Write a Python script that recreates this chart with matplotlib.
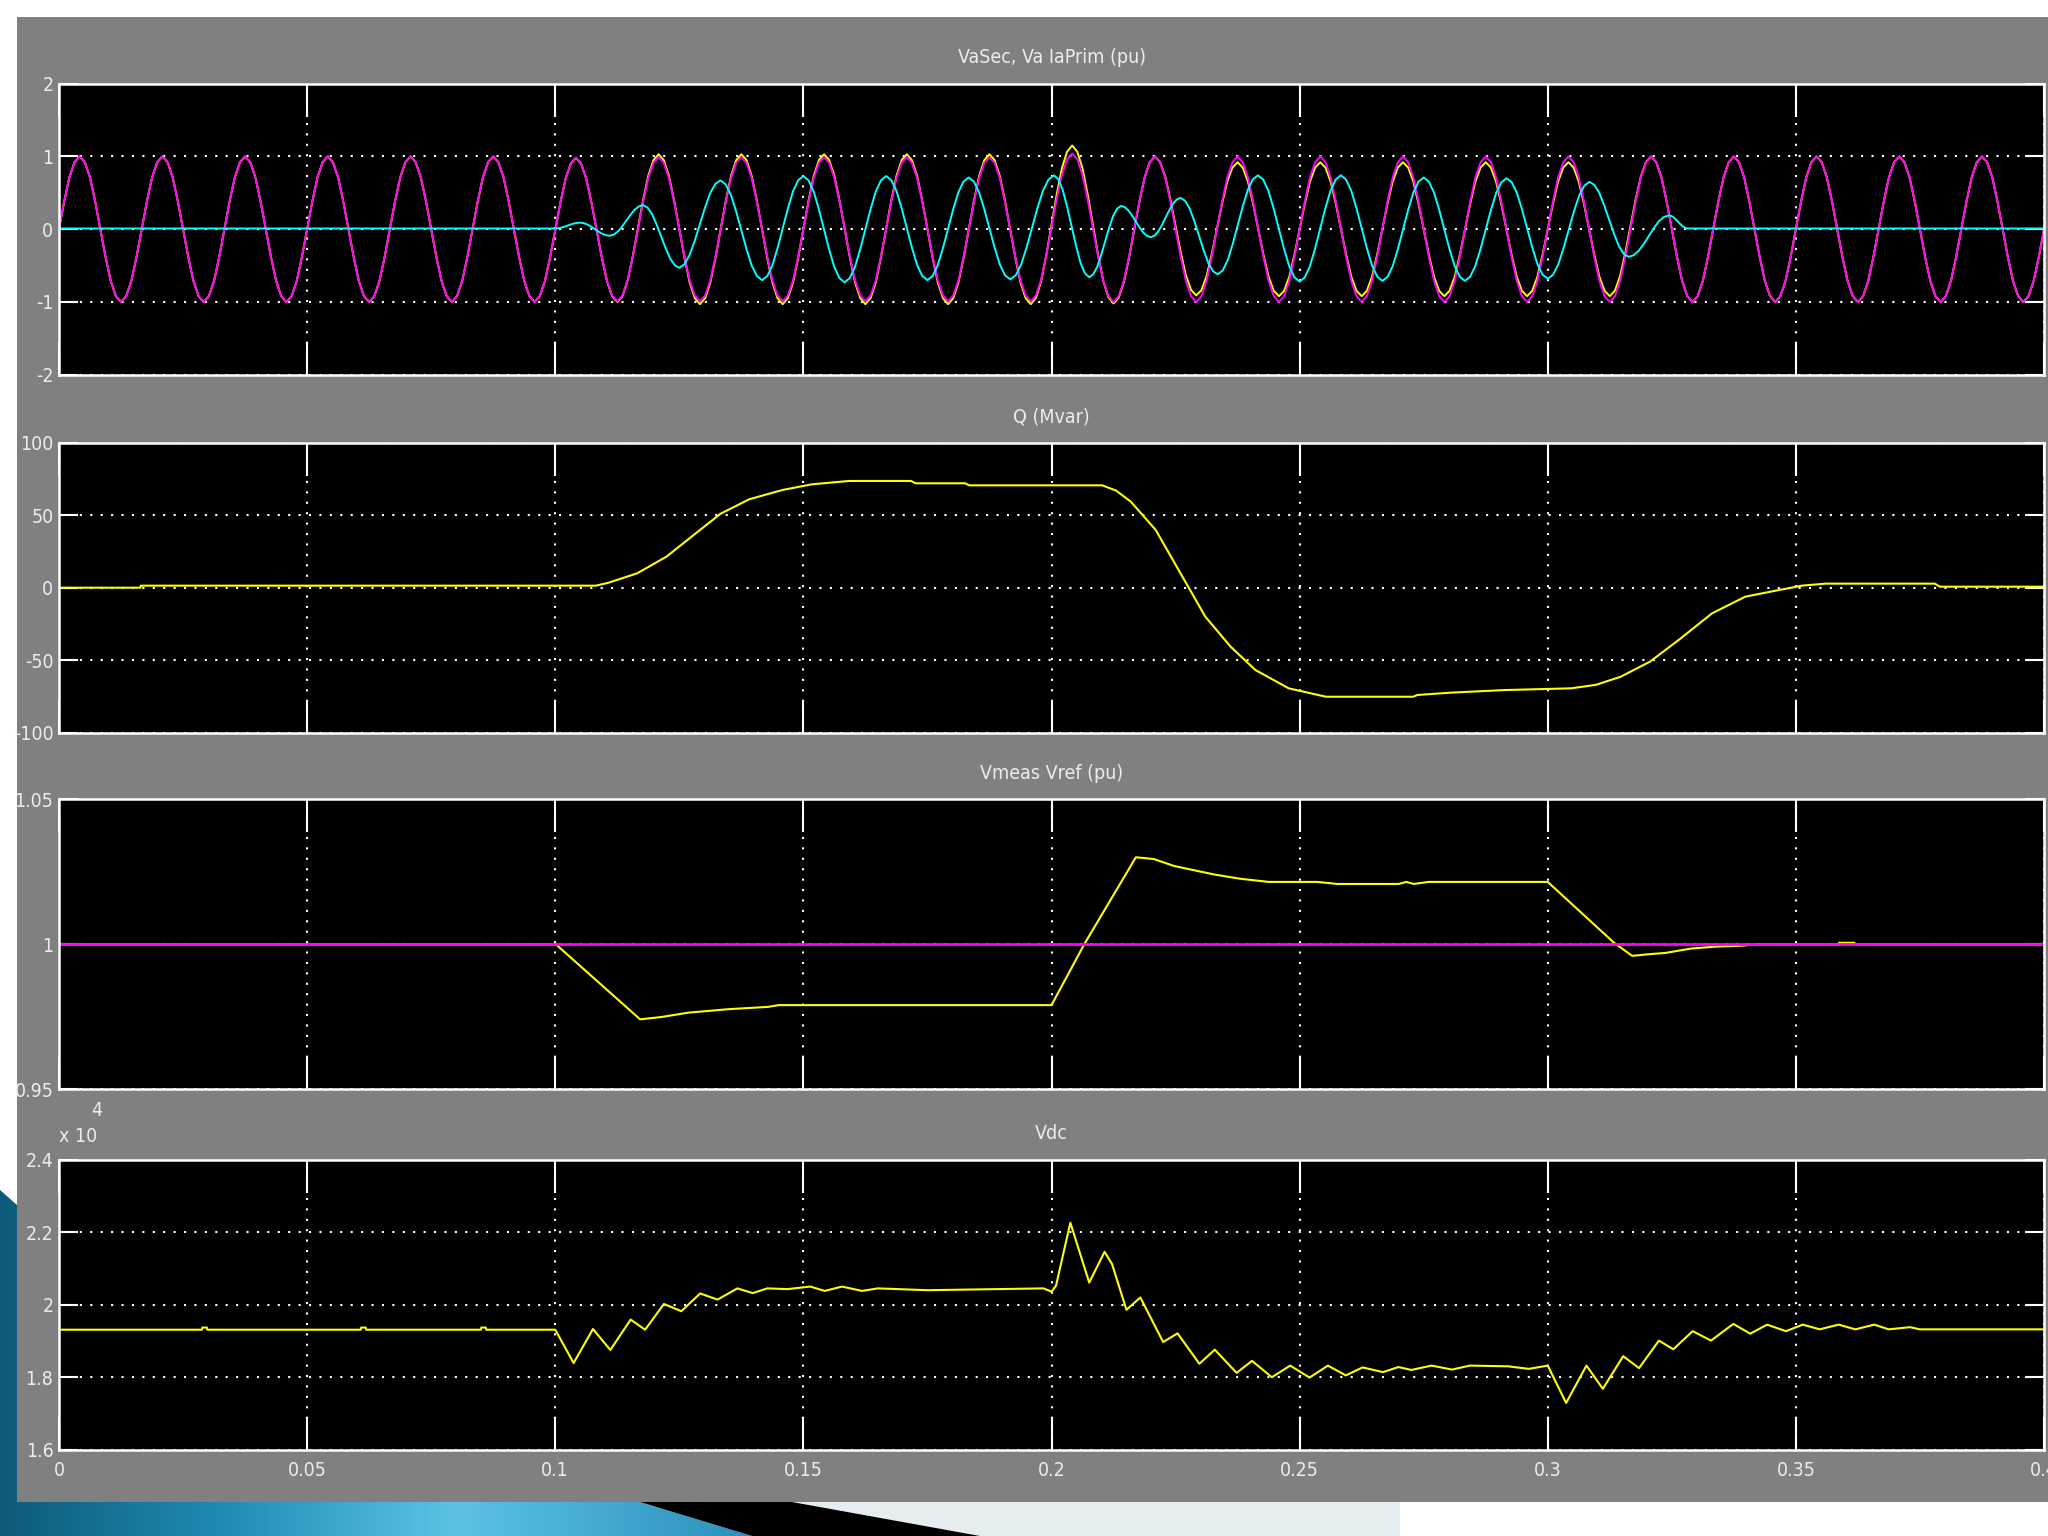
import matplotlib
matplotlib.use("Agg")
import matplotlib.pyplot as plt
from matplotlib.patches import Polygon, Rectangle
from matplotlib.colors import LinearSegmentedColormap
import numpy as np

plt.rcParams["axes.unicode_minus"] = False
plt.rcParams["font.family"] = ["DejaVu Sans"]
plt.rcParams["font.stretch"] = "condensed"

W, H = 2048, 1536

# ---- values ----
# peak magnitude of each 60 Hz half cycle, first one centred at t = -1/240
va_sec_peaks = ([1.0] + [1.0] * 12 + [0.98, 1.0] + [1.03] * 10 +
                [1.15, 1.02, 1.0, 0.91] + [0.92] * 10 + [1.0] * 11)
va_prim_peaks = ([1.0] + [1.0] * 12 + [0.98] + [0.99] * 11 +
                 [1.04] + [1.0] * 24)

# primary current: times and values of its swings
ia_t = [0.0, 0.1, 0.105, 0.111, 0.1177, 0.125, 0.1333, 0.1417, 0.15, 0.1583,
        0.1667, 0.175, 0.1833, 0.1917, 0.2005, 0.2076, 0.214, 0.22, 0.226,
        0.2335, 0.2416, 0.25, 0.2583, 0.2667, 0.275, 0.2833, 0.2917, 0.3,
        0.3084, 0.3163, 0.3244, 0.3282, 0.4]
ia_v = [0.01, 0.01, 0.09, -0.09, 0.33, -0.53, 0.67, -0.70, 0.73, -0.73,
        0.73, -0.70, 0.71, -0.69, 0.74, -0.66, 0.32, -0.11, 0.43,
        -0.62, 0.74, -0.72, 0.74, -0.71, 0.71, -0.71, 0.70, -0.68,
        0.65, -0.38, 0.19, 0.01, 0.01]

q_t = [0.0, 0.0164, 0.0165, 0.1082, 0.1107, 0.1165, 0.1224, 0.1274, 0.1333,
       0.1391, 0.1458, 0.1517, 0.1592, 0.1717, 0.1726, 0.1826, 0.1834, 0.2102,
       0.213, 0.216, 0.221, 0.226, 0.231, 0.2361, 0.2411, 0.2478, 0.2553,
       0.2729, 0.2737, 0.2804, 0.2913, 0.3047, 0.3097, 0.3147, 0.3206, 0.3264,
       0.3331, 0.3398, 0.3448, 0.3512, 0.356, 0.378, 0.379, 0.4]
q_v = [0.0, 0.0, 1.4, 1.4, 3.4, 9.9, 21.4, 35, 51,
       61, 67.4, 71.3, 73.6, 73.6, 72, 72, 70.6, 70.6,
       67, 59.3, 39.8, 9.9, -20, -40.7, -56.8, -69.4, -75.2,
       -75.2, -74, -72.4, -70.6, -69.4, -67, -61.4, -51, -36,
       -17.7, -6.2, -2.8, 1.4, 2.8, 2.8, 0.7, 0.7]

vmeas_t = [0.0, 0.1, 0.1005, 0.1171, 0.1214, 0.1268, 0.1349, 0.1429, 0.145,
           0.2, 0.2066, 0.217, 0.2206, 0.2247, 0.2288, 0.233, 0.238, 0.2438,
           0.2535, 0.2576, 0.27, 0.2715, 0.273, 0.276, 0.3, 0.3133, 0.317,
           0.3206, 0.3237, 0.3288, 0.334, 0.3391, 0.342, 0.3586, 0.3587,
           0.3618, 0.3619, 0.4]
vmeas_v = [1.0, 1.0, 0.9994, 0.9741, 0.9749, 0.9764, 0.9776, 0.9784, 0.979,
           0.979, 1.0, 1.030, 1.0294, 1.027, 1.0255, 1.024, 1.0226, 1.0215,
           1.0215, 1.0208, 1.0208, 1.0215, 1.0208, 1.0215, 1.0215, 1.0006, 0.996,
           0.9966, 0.997, 0.9985, 0.9992, 0.9995, 1.0, 1.0, 1.0005,
           1.0005, 1.0, 1.0]
vref_t = [0.0, 0.4]
vref_v = [1.0, 1.0]

# Vdc in units of 1e4 V
vdc_t = [0.0, 0.0288, 0.0289, 0.0298, 0.0299, 0.0608, 0.0609, 0.0618, 0.0619,
         0.0850, 0.0851, 0.0860, 0.0861, 0.1, 0.1037, 0.1076, 0.1111, 0.1152,
         0.1181, 0.1219, 0.1254, 0.1292, 0.1327, 0.1367, 0.1398, 0.1427,
         0.1468, 0.1514, 0.1543, 0.1578, 0.1618, 0.165, 0.175, 0.1984, 0.2,
         0.2009, 0.2038, 0.2076, 0.2107, 0.2122, 0.2151, 0.2179, 0.2225,
         0.2254, 0.2298, 0.2329, 0.2373, 0.2404, 0.2444, 0.2481, 0.252,
         0.2557, 0.2593, 0.2627, 0.2668, 0.2699, 0.2725, 0.2766, 0.2807,
         0.2843, 0.292, 0.2962, 0.3, 0.3037, 0.3078, 0.3111, 0.3152, 0.3184,
         0.3224, 0.3253, 0.3292, 0.3329, 0.3374, 0.3408, 0.3442, 0.348,
         0.3514, 0.3548, 0.3586, 0.362, 0.3658, 0.3687, 0.373, 0.375, 0.4]
vdc_v = [1.931, 1.931, 1.937, 1.937, 1.931, 1.931, 1.937, 1.937, 1.931,
         1.931, 1.937, 1.937, 1.931, 1.931, 1.839, 1.933, 1.875, 1.959,
         1.931, 2.002, 1.982, 2.031, 2.014, 2.045, 2.032, 2.045,
         2.043, 2.05, 2.038, 2.05, 2.038, 2.045, 2.040, 2.045, 2.036,
         2.052, 2.226, 2.061, 2.146, 2.112, 1.986, 2.020, 1.897,
         1.921, 1.837, 1.876, 1.812, 1.845, 1.80, 1.832, 1.799,
         1.832, 1.805, 1.827, 1.814, 1.828, 1.82, 1.832, 1.821,
         1.832, 1.83, 1.823, 1.832, 1.729, 1.832, 1.768, 1.858, 1.825,
         1.901, 1.877, 1.927, 1.901, 1.947, 1.92, 1.945, 1.927,
         1.945, 1.932, 1.945, 1.932, 1.945, 1.932, 1.938, 1.932, 1.932]

time_ticks = [0, 0.05, 0.1, 0.15, 0.2, 0.25, 0.3, 0.35, 0.4]
time_labels = ["0", "0.05", "0.1", "0.15", "0.2", "0.25", "0.3", "0.35", "0.4"]

titles = ["VaSec, Va IaPrim (pu)", "Q (Mvar)", "Vmeas Vref (pu)", "Vdc"]
y_ranges = [(-2, 2), (-100, 100), (0.95, 1.05), (1.6, 2.4)]
y_ticks = [[-2, -1, 0, 1, 2], [-100, -50, 0, 50, 100], [0.95, 1.0, 1.05],
           [1.6, 1.8, 2.0, 2.2, 2.4]]
y_labels = [["-2", "-1", "0", "1", "2"], ["-100", "-50", "0", "50", "100"],
            ["0.95", "1", "1.05"], ["1.6", "1.8", "2", "2.2", "2.4"]]

# shape of one swing from one extreme to the next (half a sine period)
HALF_SWING = [1.0, 0.92, 0.71, 0.38, 0.0, -0.38, -0.71, -0.92, -1.0]


def swing_curve(ts, vs):
    xs, ys = [], []
    n = len(HALF_SWING) - 1
    for i in range(len(ts) - 1):
        t0, t1, v0, v1 = ts[i], ts[i + 1], vs[i], vs[i + 1]
        for j in range(n):
            xs.append(t0 + (t1 - t0) * j / n)
            ys.append((v0 + v1) / 2 + (v0 - v1) / 2 * HALF_SWING[j])
    xs.append(ts[-1])
    ys.append(vs[-1])
    return xs, ys


def sine_from_peaks(peaks):
    ts = [(k - 0.5) / 120 for k in range(len(peaks))]
    vs = [p if k % 2 == 1 else -p for k, p in enumerate(peaks)]
    return swing_curve(ts, vs)


fig = plt.figure(figsize=(W / 100, H / 100), dpi=100, facecolor="white")

# background in pixel coordinates: slide decoration and grey scope window
bg = fig.add_axes([0, 0, 1, 1], zorder=-5)
bg.set_xlim(0, W)
bg.set_ylim(H, 0)
bg.axis("off")
blue = Polygon([(0, 1190), (17, 1205), (500, 1502), (640, 1502), (752, 1536), (0, 1536)],
               closed=True, facecolor="none", edgecolor="none")
bg.add_patch(blue)
cmap = LinearSegmentedColormap.from_list(
    "slide", [(0, "#0d5a78"), (0.3, "#1f8db5"), (0.6, "#5cc3e6"), (1.0, "#2a8fbb")])
grad = bg.imshow(np.linspace(0, 1, 256)[None, :], cmap=cmap, aspect="auto",
                 extent=[0, 760, 1536, 1180], zorder=1)
grad.set_clip_path(blue)
bg.add_patch(Polygon([(792, 1502), (1400, 1502), (1400, 1536), (980, 1536)],
                     closed=True, facecolor="#e6edf0", edgecolor="none", zorder=2))
bg.add_patch(Polygon([(640, 1502), (792, 1502), (980, 1536), (752, 1536)],
                     closed=True, facecolor="black", edgecolor="none", zorder=3))
bg.add_patch(Rectangle((17, 17), W - 17, 1502 - 17, facecolor="#808080",
                       edgecolor="none", zorder=4))

TEXT_COL = "#ececec"
FS = 14

ax_px = [(83.6, 374.8), (442.7, 732.7), (799.3, 1089.2), (1159.7, 1449.7)]
left_px, right_px = 59, 2044

axes = []
for i, (top, bot) in enumerate(ax_px):
    ax = fig.add_axes([left_px / W, 1 - bot / H, (right_px - left_px) / W, (bot - top) / H])
    ax.set_facecolor("black")
    for s in ax.spines.values():
        s.set_color("white")
        s.set_linewidth(1.8)
    ax.set_xlim(0, 0.4)
    ax.set_ylim(*y_ranges[i])
    ax.set_xticks(time_ticks)
    ax.set_yticks(y_ticks[i])
    ax.set_yticklabels(y_labels[i])
    ax.grid(True, color="white", linestyle=(0, (1, 4)), linewidth=1.5)
    ax.tick_params(axis="x", direction="in", length=24, width=1.5, color="white",
                   top=True, bottom=True, labelcolor=TEXT_COL, labelsize=FS, pad=8)
    ax.tick_params(axis="y", direction="in", length=14, width=1.5, color="white",
                   left=True, right=True, labelcolor=TEXT_COL, labelsize=FS, pad=4)
    if i < 3:
        ax.tick_params(axis="x", labelbottom=False)
    else:
        ax.set_xticklabels(time_labels)
    fig.text((left_px + right_px) / 2 / W, 1 - (top - 26) / H, titles[i],
             ha="center", va="center", color=TEXT_COL, fontsize=FS)
    axes.append(ax)

fig.text(59 / W, 1 - 1136 / H, "x 10", ha="left", va="center", color=TEXT_COL, fontsize=FS)
fig.text(91 / W, 1 - 1110 / H, "4", ha="left", va="center", color=TEXT_COL, fontsize=FS)

ax1, ax2, ax3, ax4 = axes

x, y = sine_from_peaks(va_sec_peaks)
ax1.plot(x, y, color="#ffff00", lw=1.4)
x, y = sine_from_peaks(va_prim_peaks)
ax1.plot(x, y, color="#ff00ff", lw=1.4)
x, y = swing_curve(ia_t, ia_v)
ax1.plot(x, y, color="#00ffff", lw=1.4)

ax2.plot(q_t, q_v, color="#ffff00", lw=1.5)

ax3.plot(vmeas_t, vmeas_v, color="#ffff00", lw=1.5)
ax3.plot(vref_t, vref_v, color="#ff00ff", lw=2.0)

ax4.plot(vdc_t, vdc_v, color="#ffff00", lw=1.5)

fig.savefig("out.png", dpi=100, facecolor="white")
